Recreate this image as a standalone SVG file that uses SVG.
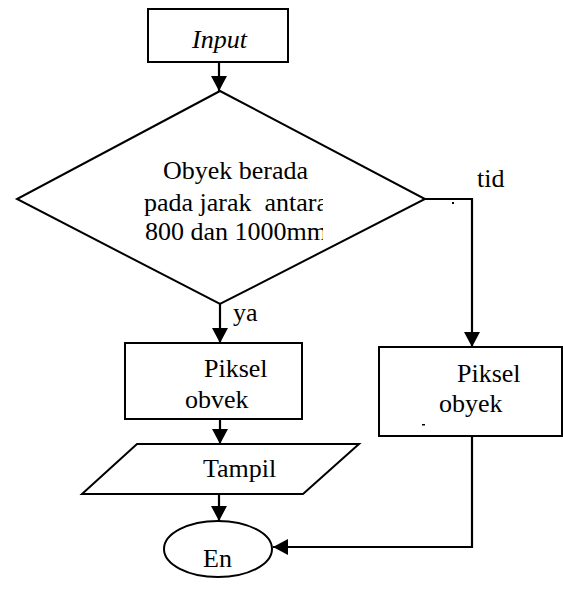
<svg xmlns="http://www.w3.org/2000/svg" width="563" height="594" viewBox="0 0 563 594">
<style>
.s{fill:#fff;stroke:#000;stroke-width:2}
.t{font-family:'Liberation Serif','Tinos','Times New Roman','DejaVu Serif',serif;font-size:26px;fill:#000}
.c{fill:none;stroke:#000;stroke-width:2.2}
</style>
<defs>
<marker id="ah" markerUnits="userSpaceOnUse" markerWidth="16" markerHeight="16" refX="15" refY="8" orient="auto">
<path d="M0,0 L15,8 L0,16 z" fill="#000"/>
</marker>
<clipPath id="dclip"><rect x="0" y="0" width="323" height="594"/></clipPath>
</defs>
<rect width="563" height="594" fill="#fff"/>
<g id="connectors">
<line class="c" x1="219" y1="62" x2="219" y2="91" marker-end="url(#ah)"/>
<line class="c" x1="220" y1="304" x2="220" y2="343" marker-end="url(#ah)"/>
<line class="c" x1="220" y1="419" x2="220" y2="444" marker-end="url(#ah)"/>
<line class="c" x1="219" y1="494" x2="219" y2="521" marker-end="url(#ah)"/>
<polyline class="c" points="425,199 472,199 472,347" marker-end="url(#ah)"/>
<polyline class="c" points="472,436 472,547 273,547" marker-end="url(#ah)"/>
<text class="t" font-family="Liberation Serif" x="233" y="321">ya</text>
<text class="t" font-family="Liberation Serif" x="477" y="187">tid</text>
<rect x="452" y="202" width="2" height="2" fill="#000"/>
</g>
<g id="input">
<rect class="s" x="148" y="9" width="140" height="53"/>
<text class="t" font-family="Liberation Serif" x="192" y="48" font-style="italic">Input</text>
</g>
<g id="decision">
<polygon class="s" points="220,91 425,199 220,304 17,199"/>
<g clip-path="url(#dclip)">
<text class="t" font-family="Liberation Serif" x="163" y="179">Obyek berada</text>
<text class="t" font-family="Liberation Serif" x="144" y="211" xml:space="preserve">pada jarak  antara</text>
<text class="t" font-family="Liberation Serif" x="145" y="240">800 dan 1000mm</text>
</g>
</g>
<g id="piksel-left">
<rect class="s" x="125" y="343" width="177" height="76"/>
<text class="t" font-family="Liberation Serif" x="204" y="377">Piksel</text>
<text class="t" font-family="Liberation Serif" x="185" y="408">obvek</text>
</g>
<g id="piksel-right">
<rect class="s" x="379" y="347" width="183" height="89"/>
<text class="t" font-family="Liberation Serif" x="457" y="382">Piksel</text>
<text class="t" font-family="Liberation Serif" x="439" y="412">obyek</text>
<rect x="422" y="424" width="3" height="1.5" fill="#000"/>
</g>
<g id="tampil">
<polygon class="s" points="137,444 359,444 303,494 82,494"/>
<text class="t" font-family="Liberation Serif" x="203" y="477">Tampil</text>
</g>
<g id="end">
<ellipse class="s" cx="218" cy="549" rx="54" ry="28"/>
<text class="t" font-family="Liberation Serif" x="203" y="567">En</text>
</g>
</svg>
